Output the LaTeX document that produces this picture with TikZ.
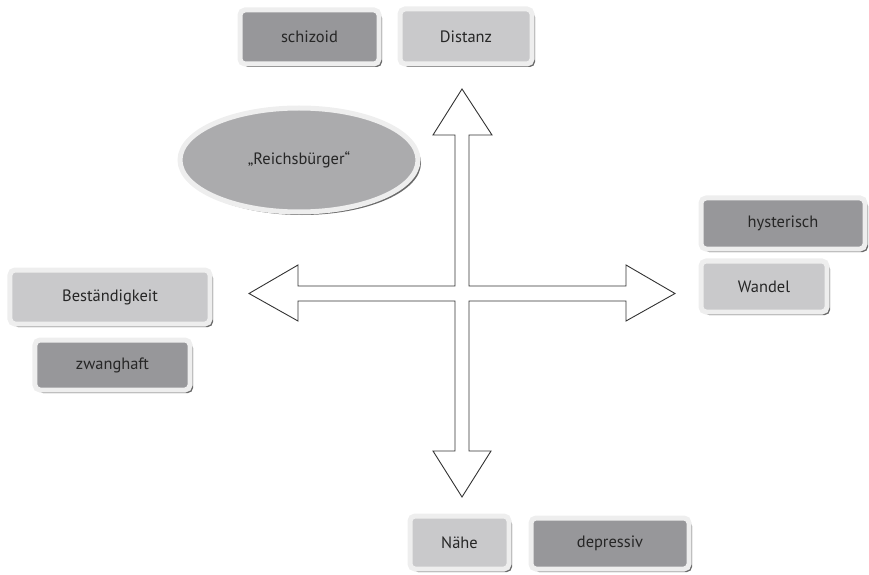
\documentclass[tikz,border=0pt]{standalone}
\usepackage{fontspec}
\setmainfont{PT Sans}
\usetikzlibrary{shadows,shapes.geometric}
\definecolor{boxdark}{HTML}{97979A}
\definecolor{boxlight}{HTML}{C9C9CB}
\definecolor{ellfill}{HTML}{ABABAD}
\definecolor{rimcol}{HTML}{EEEEEE}
\definecolor{shadcol}{HTML}{5A5A5A}
\begin{document}
\begin{tikzpicture}[x=1bp,y=-1bp,
  rimbox/.style={rectangle, rounded corners=5bp, draw=rimcol, line width=5bp,
    inner sep=0pt, font=\fontsize{16.5}{19}\selectfont, text=black!85,
    drop shadow={shadow xshift=3bp, shadow yshift=-3bp, fill=shadcol, opacity=0.9}},
  darkbox/.style={rimbox, fill=boxdark},
  lightbox/.style={rimbox, fill=boxlight},
  crossline/.style={draw=black!80, line width=0.9bp, fill=white, line join=miter}
]
\useasboundingbox (0,0) rectangle (869,575);
% cross of arrows
\draw[crossline] (462,89) -- (492,135) -- (469,135) -- (469,286) -- (626,286) -- (626,265)
  -- (675,293.5) -- (626,321) -- (626,301) -- (469,301) -- (469,451) -- (491,451)
  -- (462,497) -- (433,451) -- (455,451) -- (455,301) -- (298,301) -- (298,321)
  -- (249,293.5) -- (298,265) -- (298,286) -- (455,286) -- (455,135) -- (433,135) -- cycle;
% ellipse
\node[ellipse, draw=rimcol, line width=5bp, fill=ellfill, minimum width=238bp, minimum height=104bp,
  inner sep=0pt, font=\fontsize{16.5}{19}\selectfont, text=black!85,
  drop shadow={shadow xshift=3bp, shadow yshift=-3bp, fill=shadcol, opacity=0.9}]
  (rb) at (299,160) {„Reichsbürger“};
% boxes
\node[darkbox, minimum width=139bp, minimum height=54bp] (schiz) at (309.5,37) {schizoid};
\node[lightbox, minimum width=132bp, minimum height=55bp] (dist) at (466,36.5) {Distanz};
\node[lightbox, minimum width=200bp, minimum height=54bp] (best) at (110,297) {Beständigkeit};
\node[darkbox, minimum width=155bp, minimum height=50bp] (zwang) at (112.5,365) {zwanghaft};
\node[darkbox, minimum width=164bp, minimum height=51bp] (hyst) at (783,223.5) {hysterisch};
\node[lightbox, minimum width=126bp, minimum height=51bp] (wand) at (764,286.5) {Wandel};
\node[lightbox, minimum width=99bp, minimum height=53bp] (naehe) at (459.5,542.5) {Nähe};
\node[darkbox, minimum width=158bp, minimum height=51bp] (depr) at (610,543.5) {depressiv};
\end{tikzpicture}
\end{document}
